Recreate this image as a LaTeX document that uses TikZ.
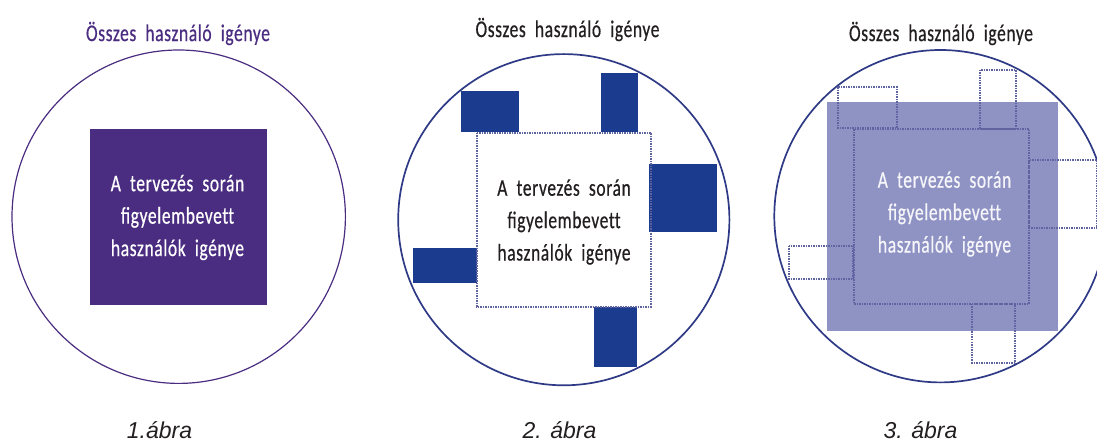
\documentclass[tikz,border=0pt]{standalone}
\usepackage{fontspec}
\setmainfont{Carlito}[FakeStretch=0.73,FakeBold=0.5,WordSpace=2.0,LetterSpace=2.5]
\newfontfamily\capfont{Liberation Sans}
\definecolor{purp}{HTML}{4A2C80}
\definecolor{navy}{HTML}{1B3C8E}
\definecolor{ring}{HTML}{2E3A86}
\definecolor{lav}{HTML}{8F93C4}
\definecolor{dots}{HTML}{5F64A0}
\definecolor{darktxt}{HTML}{231F20}
\newcommand{\bodylines}{A tervezés során\\figyelembevet\kern0pt{}t\\használók igénye}
\tikzset{
  titletxt/.style={font=\fontsize{24}{28}\selectfont,inner sep=0pt,anchor=center},
  bodytxt/.style={font=\fontsize{24}{32.4}\selectfont,inner sep=0pt,align=center,anchor=center},
  captxt/.style={font=\capfont\itshape\fontsize{23}{26}\selectfont,text=darktxt,inner sep=0pt,anchor=center},
  dotbox/.style={draw=dots,line width=1.9pt,dash pattern=on 1.5pt off 1pt},
  blockfill/.style={fill=navy,draw=none},
}
\begin{document}
\begin{tikzpicture}[x=1pt,y=-1pt]
\useasboundingbox (0,0) rectangle (1097,443);
\clip (0,0) rectangle (1097,443);
% Figure 1
\draw[purp,line width=1.2pt] (178.7,216.7) circle[radius=166.7];
\fill[purp] (90.3,129) rectangle (266.7,304.7);
\node[titletxt,text=purp] (t1) at (178,33.5) {Összes használó igénye};
\node[bodytxt,text=white] (b1) at (177.5,217.5) {\bodylines};
\node[captxt] (c1) at (159.5,430.5) {1.ábra};
% Figure 2
\draw[ring,line width=1.7pt] (563.8,219.7) circle[radius=165.6];
\fill[blockfill] (461,90.7) rectangle (519.3,132.3);
\fill[blockfill] (601.3,73.3) rectangle (638.3,132.3);
\fill[blockfill] (648.7,163.7) rectangle (716.7,232);
\fill[blockfill] (412.7,248.3) rectangle (476.7,283.3);
\fill[blockfill] (594,306.7) rectangle (637.3,366.7);
\draw[dotbox] (476.7,132.7) rectangle (651,306.7);
\node[titletxt,text=darktxt] (t2) at (567.5,29.5) {Összes használó igénye};
\node[bodytxt,text=darktxt] (b2) at (564,222) {\bodylines};
\node[captxt] (c2) at (559.5,430.5) {2. ábra};
% Figure 3
\draw[ring,line width=1.7pt] (940.5,216.2) circle[radius=166.2];
\fill[lav] (826.7,101.7) rectangle (1058.3,330.7);
\draw[dotbox] (853.7,129.3) rectangle (1029,304);
\draw[dotbox] (838.3,87.3) rectangle (896.7,128.3);
\draw[dotbox] (980,70) rectangle (1015.7,129.3);
\draw[dotbox] (1029,160.3) rectangle (1097,228.3);
\draw[dotbox] (789.3,245.7) rectangle (853.3,279.3);
\draw[dotbox] (972.3,304) rectangle (1015,362.7);
\node[titletxt,text=darktxt] (t3) at (941,33.5) {Összes használó igénye};
\node[bodytxt,text=white!92!lav] (b3) at (944.5,214) {\bodylines};
\node[captxt] (c3) at (920.5,430.5) {3. ábra};
\end{tikzpicture}
\end{document}
